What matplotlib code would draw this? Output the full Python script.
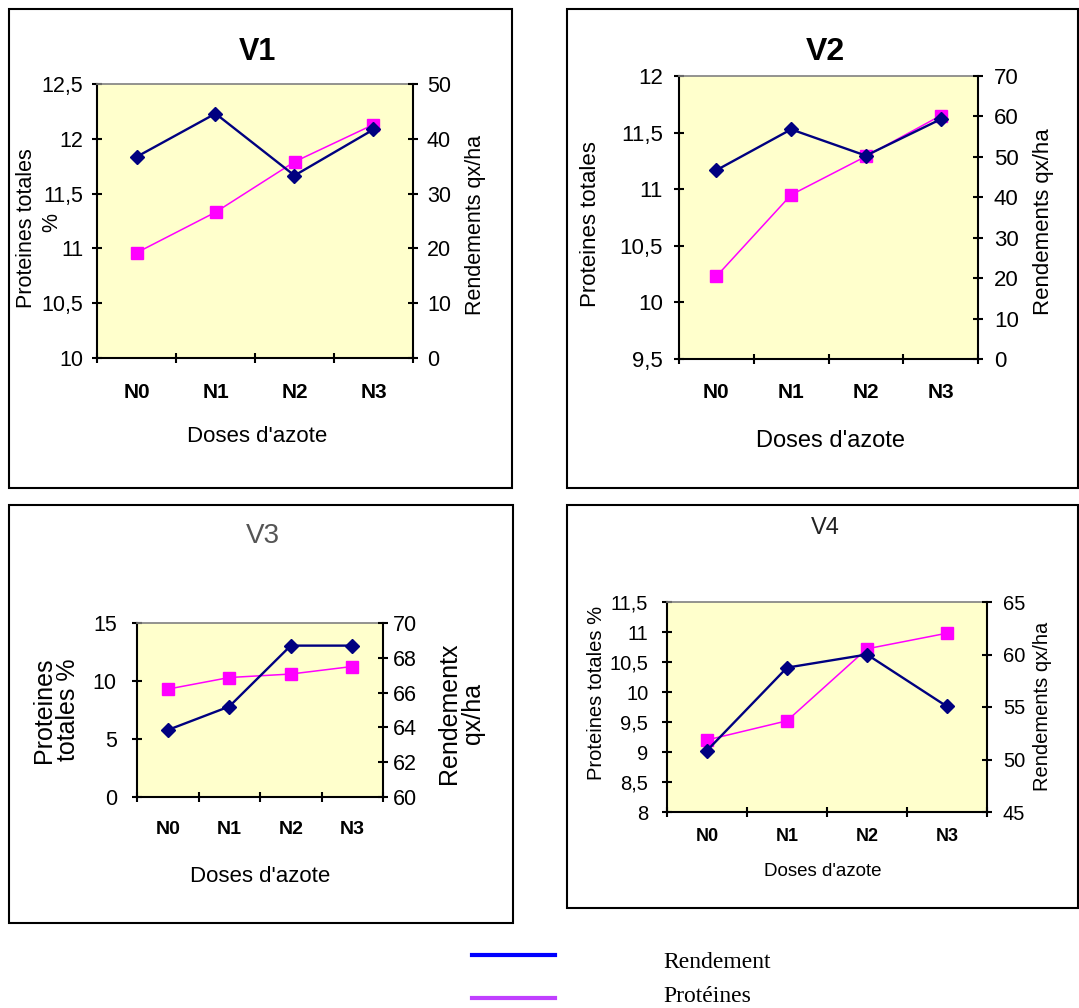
import matplotlib
matplotlib.use('Agg')
import matplotlib.pyplot as plt
from matplotlib.lines import Line2D
from matplotlib.patches import Rectangle
from matplotlib.ticker import FuncFormatter

plt.rcParams['font.family'] = ['Liberation Sans', 'DejaVu Sans']

W, H = 1079, 1008

# ---------------- data ----------------
doses = ['N0', 'N1', 'N2', 'N3']

v1_rendement = [36.7, 44.6, 33.3, 41.7]
v1_proteines = [10.96, 11.33, 11.79, 12.13]
v2_rendement = [46.7, 56.8, 50.3, 59.3]
v2_proteines = [10.23, 10.95, 11.29, 11.65]
v3_rendement = [63.85, 65.2, 68.7, 68.7]
v3_proteines = [9.3, 10.3, 10.6, 11.25]
v4_rendement = [50.85, 58.75, 60.0, 55.05]
v4_proteines = [9.2, 9.52, 10.72, 10.98]

v1_left_ticks = [10, 10.5, 11, 11.5, 12, 12.5]
v1_right_ticks = [0, 10, 20, 30, 40, 50]
v2_left_ticks = [9.5, 10, 10.5, 11, 11.5, 12]
v2_right_ticks = [0, 10, 20, 30, 40, 50, 60, 70]
v3_left_ticks = [0, 5, 10, 15]
v3_right_ticks = [60, 62, 64, 66, 68, 70]
v4_left_ticks = [8, 8.5, 9, 9.5, 10, 10.5, 11, 11.5]
v4_right_ticks = [45, 50, 55, 60, 65]

legend_labels = ['Rendement', 'Protéines']

BLUE = '#000080'
PINK = '#FF00FF'
NARROW = ['Liberation Sans Narrow', 'Liberation Sans', 'DejaVu Sans']
SERIF = ['Liberation Serif', 'DejaVu Serif']


def fx(x):
    return x / W


def fy(y):
    return 1 - y / H


def comma(v, pos=None):
    return ('%g' % v).replace('.', ',')


fig = plt.figure(figsize=(W / 100, H / 100), dpi=100)


def panel(box, plot, title, title_xy, title_kw, prot, rend, lticks, rticks,
          ylabels, lab_size, xlab_xy, xlab_size, tick_size, xtick_size,
          xpad, lpad, rpad):
    bx0, by0, bx1, by1 = box
    fig.add_artist(Rectangle((fx(bx0), fy(by1)), (bx1 - bx0) / W, (by1 - by0) / H,
                             transform=fig.transFigure, fill=False,
                             ec='black', lw=1.5))
    x0, y0, x1, y1 = plot
    ax = fig.add_axes([fx(x0), fy(y1), (x1 - x0) / W, (y1 - y0) / H],
                      facecolor='#FFFFCC')
    ax.set_xlim(-0.5, 3.5)
    ax.set_ylim(lticks[0], lticks[-1])
    ax.set_yticks(lticks)
    ax.yaxis.set_major_formatter(FuncFormatter(comma))
    ax.set_xticks([-0.5, 0.5, 1.5, 2.5, 3.5])
    ax.set_xticklabels([])
    ax.set_xticks(range(len(doses)), minor=True)
    ax.set_xticklabels(doses, minor=True, family=NARROW, fontweight='bold',
                       fontsize=xtick_size)
    ax.tick_params(axis='x', which='minor', length=0, pad=xpad)
    ax.tick_params(axis='x', which='major', direction='inout', length=7,
                   width=1.5)
    ax.tick_params(axis='y', direction='inout', length=7, width=1.5,
                   pad=lpad, labelsize=tick_size)
    for s in ('left', 'bottom'):
        ax.spines[s].set_linewidth(1.5)
        ax.spines[s].set_color('black')
    ax.spines['top'].set_color('#808080')
    ax.spines['top'].set_linewidth(1.2)
    ax.spines['right'].set_visible(False)

    ax.plot(range(len(doses)), prot, color=PINK, marker='s', ms=8,
            lw=1.1, mec=PINK, mfc=PINK, zorder=3)

    ax2 = ax.twinx()
    ax2.set_ylim(rticks[0], rticks[-1])
    ax2.set_yticks(rticks)
    ax2.yaxis.set_major_formatter(FuncFormatter(comma))
    ax2.tick_params(axis='y', direction='inout', length=7, width=1.5,
                    pad=rpad, labelsize=tick_size)
    for s in ('top', 'left', 'bottom'):
        ax2.spines[s].set_visible(False)
    ax2.spines['right'].set_linewidth(1.5)
    ax2.spines['right'].set_color('black')
    ax2.plot(range(len(doses)), rend, color=BLUE, marker='D', ms=7.5,
             lw=1.7, mec=BLUE, mfc=BLUE, zorder=4)

    fig.text(fx(title_xy[0]), fy(title_xy[1]), title, ha='center',
             va='center', **title_kw)
    for txt, (tx, ty) in ylabels:
        fig.text(fx(tx), fy(ty), txt, rotation=90, ha='center', va='center',
                 multialignment='center', fontsize=lab_size, linespacing=1.0)
    fig.text(fx(xlab_xy[0]), fy(xlab_xy[1]), "Doses d'azote", ha='center',
             va='center', fontsize=xlab_size)


panel(box=(9, 9, 512, 488), plot=(97, 84, 413, 358), title='V1',
      title_xy=(257, 52),
      title_kw=dict(fontsize=22, fontweight='bold', family=NARROW),
      prot=v1_proteines, rend=v1_rendement,
      lticks=v1_left_ticks, rticks=v1_right_ticks,
      ylabels=[('Proteines totales', (27, 228)), ('%', (52, 222)),
               ('Rendements qx/ha', (476, 225))],
      lab_size=15.5, xlab_xy=(257, 436), xlab_size=16, tick_size=15.5,
      xtick_size=15, xpad=18, lpad=6.5, rpad=6.5)

panel(box=(567, 9, 1078, 488), plot=(679, 76, 978, 359), title='V2',
      title_xy=(825, 52),
      title_kw=dict(fontsize=23, fontweight='bold', family=NARROW),
      prot=v2_proteines, rend=v2_rendement,
      lticks=v2_left_ticks, rticks=v2_right_ticks,
      ylabels=[('Proteines totales', (590, 224)),
               ('Rendements qx/ha', (1043, 222))],
      lab_size=16, xlab_xy=(830, 441), xlab_size=17, tick_size=16,
      xtick_size=15, xpad=17.5, lpad=8, rpad=8)

panel(box=(9, 505, 513, 923), plot=(137, 623, 383, 797), title='V3',
      title_xy=(263, 536),
      title_kw=dict(fontsize=20, color='#555555'),
      prot=v3_proteines, rend=v3_rendement,
      lticks=v3_left_ticks, rticks=v3_right_ticks,
      ylabels=[('Proteines\ntotales %', (56, 710)),
               ('Rendementx\nqx/ha', (461, 713))],
      lab_size=18, xlab_xy=(260, 877), xlab_size=16, tick_size=15.5,
      xtick_size=14, xpad=17, lpad=11, rpad=3.5)

panel(box=(567, 505, 1078, 908), plot=(667, 602, 987, 812), title='V4',
      title_xy=(825, 528),
      title_kw=dict(fontsize=17, color='#222222'),
      prot=v4_proteines, rend=v4_rendement,
      lticks=v4_left_ticks, rticks=v4_right_ticks,
      ylabels=[('Proteines totales %', (596, 693)),
               ('Rendements qx/ha', (1043, 706))],
      lab_size=14.5, xlab_xy=(823, 872), xlab_size=13.5, tick_size=14.5,
      xtick_size=13, xpad=11.5, lpad=10, rpad=8)

# ---------------- bottom legend ----------------
legend_colors = ['#0000FF', '#C040FF']
legend_y = [955, 998]
text_y = [963, 997]
for lab, col, ly, ty in zip(legend_labels, legend_colors, legend_y, text_y):
    fig.add_artist(Line2D([fx(472), fx(555)], [fy(ly), fy(ly)],
                          transform=fig.transFigure, color=col, lw=3))
    fig.text(fx(663), fy(ty), lab, ha='left', va='center', fontsize=17,
             family=SERIF)

fig.savefig('out.png', dpi=100, facecolor='white')
